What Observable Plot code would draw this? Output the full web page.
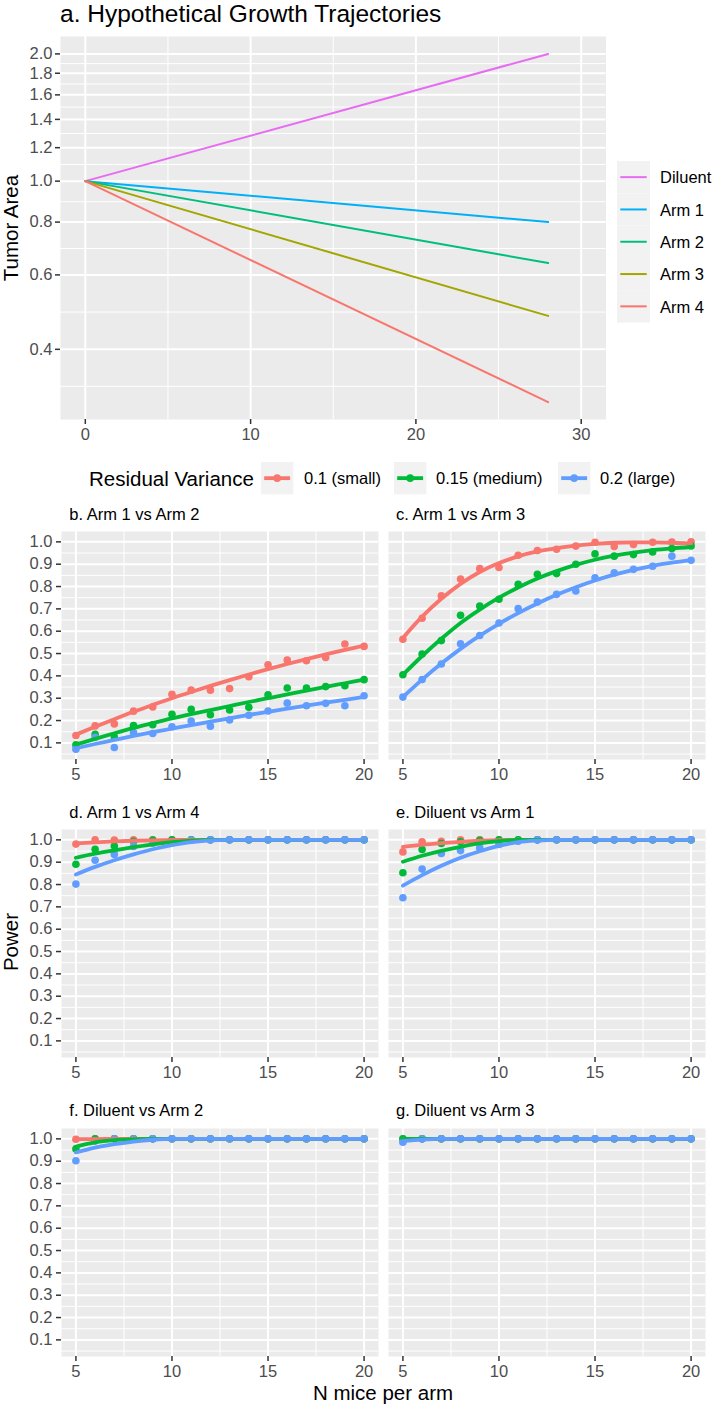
<!DOCTYPE html>
<html><head><meta charset="utf-8">
<script src="https://cdn.jsdelivr.net/npm/d3@7"></script>
<script src="https://cdn.jsdelivr.net/npm/@observablehq/plot@0.6"></script>
<style>
html,body{margin:0;padding:0;background:#fff;}
#root{position:relative;width:712px;height:1408px;overflow:hidden;font-family:"Liberation Sans",Arial,Helvetica,sans-serif;color:#000;}
.t{position:absolute;white-space:nowrap;line-height:0;}
.rot{position:absolute;white-space:nowrap;line-height:1;transform:translate(-50%,-50%) rotate(-90deg);}
#root > svg{position:absolute;}
</style></head><body><div id="root"></div>
<script>
// ---------- Panel a data ----------
const arms = ["Diluent", "Arm 1", "Arm 2", "Arm 3", "Arm 4"];
const armColors = ["#E76BF3", "#00B0F6", "#00BF7D", "#A3A500", "#F8766D"];
const trajDays = [0, 28];
const areaDay0 = [1.0, 1.0, 1.0, 1.0, 1.0];
const areaDay28 = [2.0, 0.80, 0.64, 0.48, 0.30];
const areaTicks = [0.4, 0.6, 0.8, 1.0, 1.2, 1.4, 1.6, 1.8, 2.0];
const areaMinor = [0.327, 0.490, 0.693, 0.894, 1.095, 1.296, 1.497, 1.697, 1.897];
const dayTicks = [0, 10, 20, 30];
const dayMinor = [5, 15, 25];

// ---------- Power panels data ----------
const nMice = [5, 6, 7, 8, 9, 10, 11, 12, 13, 14, 15, 16, 17, 18, 19, 20];
const variances = ["0.1 (small)", "0.15 (medium)", "0.2 (large)"];
const varColors = ["#F8766D", "#00BA38", "#619CFF"];
const powerTicks = [0.1, 0.2, 0.3, 0.4, 0.5, 0.6, 0.7, 0.8, 0.9, 1.0];
const powerMinor = [0.05, 0.15, 0.25, 0.35, 0.45, 0.55, 0.65, 0.75, 0.85, 0.95];
const nTicks = [5, 10, 15, 20];
const nMinor = [7.5, 12.5, 17.5];
const panelTitles = ["b. Arm 1 vs Arm 2", "c. Arm 1 vs Arm 3", "d. Arm 1 vs Arm 4",
                     "e. Diluent vs Arm 1", "f. Diluent vs Arm 2", "g. Diluent vs Arm 3"];

const bSmallPts = [0.133, 0.176, 0.185, 0.242, 0.261, 0.318, 0.336, 0.336, 0.343, 0.396, 0.450, 0.471, 0.468, 0.482, 0.543, 0.532];
const bSmallFit = [0.137, 0.172, 0.206, 0.239, 0.270, 0.300, 0.328, 0.355, 0.381, 0.406, 0.430, 0.453, 0.475, 0.496, 0.516, 0.536];
const bMedPts   = [0.091, 0.138, 0.126, 0.178, 0.181, 0.228, 0.250, 0.226, 0.247, 0.259, 0.315, 0.346, 0.346, 0.352, 0.356, 0.383];
const bMedFit   = [0.092, 0.118, 0.143, 0.167, 0.189, 0.210, 0.229, 0.247, 0.265, 0.283, 0.300, 0.317, 0.334, 0.351, 0.367, 0.383];
const bLargePts = [0.072, 0.125, 0.079, 0.146, 0.142, 0.172, 0.198, 0.175, 0.203, 0.224, 0.243, 0.278, 0.266, 0.277, 0.266, 0.311];
const bLargeFit = [0.076, 0.095, 0.113, 0.131, 0.148, 0.164, 0.180, 0.195, 0.210, 0.225, 0.239, 0.253, 0.267, 0.280, 0.293, 0.306];

const cSmallPts = [0.564, 0.658, 0.758, 0.834, 0.880, 0.885, 0.940, 0.961, 0.967, 0.981, 0.998, 0.979, 0.988, 0.998, 0.999, 1.000];
const cSmallFit = [0.570, 0.665, 0.745, 0.812, 0.865, 0.905, 0.935, 0.957, 0.972, 0.983, 0.991, 0.996, 0.998, 0.998, 0.996, 0.992];
const cMedPts   = [0.405, 0.498, 0.558, 0.671, 0.713, 0.743, 0.810, 0.855, 0.858, 0.900, 0.946, 0.936, 0.943, 0.955, 0.970, 0.982];
const cMedFit   = [0.405, 0.489, 0.566, 0.637, 0.697, 0.750, 0.796, 0.836, 0.869, 0.897, 0.920, 0.938, 0.952, 0.963, 0.971, 0.977];
const cLargePts = [0.305, 0.384, 0.453, 0.544, 0.581, 0.637, 0.701, 0.731, 0.765, 0.780, 0.839, 0.861, 0.877, 0.891, 0.936, 0.918];
const cLargeFit = [0.305, 0.383, 0.455, 0.521, 0.580, 0.633, 0.681, 0.724, 0.763, 0.797, 0.827, 0.853, 0.875, 0.893, 0.907, 0.918];

const dSmallPts = [0.981, 1.000, 0.999, 1.000, 1.000, 1.000, 1.000, 1.000, 1.000, 1.000, 1.000, 1.000, 1.000, 1.000, 1.000, 1.000];
const dSmallFit = [0.984, 0.989, 0.993, 0.996, 0.998, 0.999, 1.000, 1.000, 1.000, 1.000, 1.000, 1.000, 1.000, 1.000, 1.000, 1.000];
const dMedPts   = [0.891, 0.958, 0.972, 0.994, 0.999, 1.000, 1.000, 1.000, 1.000, 1.000, 1.000, 1.000, 1.000, 1.000, 1.000, 1.000];
const dMedFit   = [0.920, 0.938, 0.953, 0.967, 0.980, 0.990, 0.997, 1.000, 1.000, 1.000, 1.000, 1.000, 1.000, 1.000, 1.000, 1.000];
const dLargePts = [0.802, 0.909, 0.935, 0.970, 0.985, 0.991, 0.999, 1.000, 1.000, 1.000, 1.000, 1.000, 1.000, 1.000, 1.000, 1.000];
const dLargeFit = [0.845, 0.879, 0.909, 0.935, 0.958, 0.976, 0.990, 0.998, 1.000, 1.000, 1.000, 1.000, 1.000, 1.000, 1.000, 1.000];

const eSmallPts = [0.946, 0.991, 0.994, 1.000, 1.000, 1.000, 1.000, 1.000, 1.000, 1.000, 1.000, 1.000, 1.000, 1.000, 1.000, 1.000];
const eSmallFit = [0.969, 0.978, 0.985, 0.991, 0.996, 0.999, 1.000, 1.000, 1.000, 1.000, 1.000, 1.000, 1.000, 1.000, 1.000, 1.000];
const eMedPts   = [0.853, 0.957, 0.984, 0.991, 0.998, 1.000, 1.000, 1.000, 1.000, 1.000, 1.000, 1.000, 1.000, 1.000, 1.000, 1.000];
const eMedFit   = [0.902, 0.929, 0.951, 0.969, 0.984, 0.994, 1.000, 1.000, 1.000, 1.000, 1.000, 1.000, 1.000, 1.000, 1.000, 1.000];
const eLargePts = [0.741, 0.869, 0.939, 0.952, 0.964, 0.979, 0.994, 1.000, 1.000, 1.000, 1.000, 1.000, 1.000, 1.000, 1.000, 1.000];
const eLargeFit = [0.795, 0.842, 0.884, 0.920, 0.949, 0.973, 0.990, 0.997, 1.000, 1.000, 1.000, 1.000, 1.000, 1.000, 1.000, 1.000];

const fSmallPts = [0.998, 1.000, 1.000, 1.000, 1.000, 1.000, 1.000, 1.000, 1.000, 1.000, 1.000, 1.000, 1.000, 1.000, 1.000, 1.000];
const fSmallFit = [0.999, 0.999, 1.000, 1.000, 1.000, 1.000, 1.000, 1.000, 1.000, 1.000, 1.000, 1.000, 1.000, 1.000, 1.000, 1.000];
const fMedPts   = [0.955, 1.000, 1.000, 1.000, 1.000, 1.000, 1.000, 1.000, 1.000, 1.000, 1.000, 1.000, 1.000, 1.000, 1.000, 1.000];
const fMedFit   = [0.965, 0.984, 0.994, 0.998, 1.000, 1.000, 1.000, 1.000, 1.000, 1.000, 1.000, 1.000, 1.000, 1.000, 1.000, 1.000];
const fLargePts = [0.902, 0.990, 1.000, 1.000, 1.000, 1.000, 1.000, 1.000, 1.000, 1.000, 1.000, 1.000, 1.000, 1.000, 1.000, 1.000];
const fLargeFit = [0.939, 0.961, 0.976, 0.988, 0.996, 1.000, 1.000, 1.000, 1.000, 1.000, 1.000, 1.000, 1.000, 1.000, 1.000, 1.000];

const gSmallPts = [1.000, 1.000, 1.000, 1.000, 1.000, 1.000, 1.000, 1.000, 1.000, 1.000, 1.000, 1.000, 1.000, 1.000, 1.000, 1.000];
const gSmallFit = [1.000, 1.000, 1.000, 1.000, 1.000, 1.000, 1.000, 1.000, 1.000, 1.000, 1.000, 1.000, 1.000, 1.000, 1.000, 1.000];
const gMedPts   = [1.000, 1.000, 1.000, 1.000, 1.000, 1.000, 1.000, 1.000, 1.000, 1.000, 1.000, 1.000, 1.000, 1.000, 1.000, 1.000];
const gMedFit   = [1.000, 1.000, 1.000, 1.000, 1.000, 1.000, 1.000, 1.000, 1.000, 1.000, 1.000, 1.000, 1.000, 1.000, 1.000, 1.000];
const gLargePts = [0.985, 1.000, 1.000, 1.000, 1.000, 1.000, 1.000, 1.000, 1.000, 1.000, 1.000, 1.000, 1.000, 1.000, 1.000, 1.000];
const gLargeFit = [0.991, 0.997, 1.000, 1.000, 1.000, 1.000, 1.000, 1.000, 1.000, 1.000, 1.000, 1.000, 1.000, 1.000, 1.000, 1.000];

// ---------- Layout / style ----------
const FONT = '"Liberation Sans", Arial, Helvetica, sans-serif';
const TICK_FS = 16.5, TITLE_FS = 20.5;
const root = document.getElementById("root");

function addText(str, x, baseline, size, anchor = "start", color = "#000") {
  const d = document.createElement("div");
  d.className = "t";
  d.textContent = str;
  d.style.fontSize = size + "px";
  d.style.color = color;
  d.style.top = (baseline - 0.3465 * size) + "px";
  d.style.left = x + "px";
  if (anchor === "middle") d.style.transform = "translateX(-50%)";
  root.appendChild(d);
}
function addRotText(str, cx, cy, size) {
  const d = document.createElement("div");
  d.className = "rot";
  d.textContent = str;
  d.style.fontSize = size + "px";
  d.style.left = cx + "px";
  d.style.top = cy + "px";
  root.appendChild(d);
}
function place(svg, left, top) {
  svg.style.position = "absolute";
  svg.style.left = left + "px";
  svg.style.top = top + "px";
  root.appendChild(svg);
}

// ---------- Panel a ----------
const traj = [];
arms.forEach((a, i) => {
  traj.push({day: trajDays[0], area: areaDay0[i], arm: a});
  traj.push({day: trajDays[1], area: areaDay28[i], arm: a});
});

const plotA = Plot.plot({
  width: 712, height: 450,
  marginLeft: 60, marginRight: 106.5, marginTop: 36, marginBottom: 31,
  style: {fontFamily: FONT, fontSize: TICK_FS + "px", background: "transparent", overflow: "visible"},
  x: {domain: [-1.5, 31.5]},
  y: {type: "log", domain: [0.2729, 2.199]},
  color: {domain: arms, range: armColors},
  marks: [
    Plot.frame({fill: "#EBEBEB", stroke: "none"}),
    Plot.ruleY(areaMinor, {stroke: "#fff", strokeWidth: 1}),
    Plot.ruleX(dayMinor, {stroke: "#fff", strokeWidth: 1}),
    Plot.ruleY(areaTicks, {stroke: "#fff", strokeWidth: 2}),
    Plot.ruleX(dayTicks, {stroke: "#fff", strokeWidth: 2}),
    Plot.line(traj, {x: "day", y: "area", z: "arm", stroke: "arm", strokeWidth: 2}),
    Plot.axisX(dayTicks, {tickSize: 5, tickPadding: 4, stroke: "#333333", strokeWidth: 1.5, fill: "#4D4D4D", fontSize: TICK_FS, label: null, tickFormat: d3.format("d")}),
    Plot.axisY(areaTicks, {tickSize: 5, tickPadding: 3, stroke: "#333333", strokeWidth: 1.5, fill: "#4D4D4D", fontSize: TICK_FS, label: null, tickFormat: d3.format(".1f")})
  ]
});
place(plotA, 0, 0);

addText("a. Hypothetical Growth Trajectories", 60, 22.5, 24.5);
addRotText("Tumor Area", 11, 227.5, TITLE_FS);

// Legend for panel a
const legA = d3.create("svg").attr("width", 34).attr("height", 162);
arms.forEach((a, i) => {
  const g = legA.append("g").attr("transform", `translate(0,${i * 32.3})`);
  g.append("rect").attr("width", 33).attr("height", 32.3).attr("fill", "#F2F2F2");
  g.append("line").attr("x1", 3.3).attr("x2", 29.7).attr("y1", 16.15).attr("y2", 16.15)
    .attr("stroke", armColors[i]).attr("stroke-width", 2);
  addText(a, 660, 161 + i * 32.3 + 16.15 + 5.9, TICK_FS);
});
place(legA.node(), 617, 161);

// ---------- Residual variance legend ----------
addText("Residual Variance", 89, 486, TITLE_FS);
const keyX = [261.4, 394.1, 558.2];
const labX = [304, 436, 600];
variances.forEach((v, i) => {
  const k = d3.create("svg").attr("width", 33).attr("height", 33);
  k.append("rect").attr("width", 32.3).attr("height", 32.3).attr("fill", "#F2F2F2");
  k.append("line").attr("x1", 3.2).attr("x2", 29.1).attr("y1", 16.15).attr("y2", 16.15)
    .attr("stroke", varColors[i]).attr("stroke-width", 3.8);
  k.append("circle").attr("cx", 16.15).attr("cy", 16.15).attr("r", 3.8).attr("fill", varColors[i]);
  place(k.node(), keyX[i], 461.7);
  addText(v, labX[i], 483.4, TICK_FS);
});

// ---------- Power panels ----------
const PANEL_H = 228;
const rowTops = [531, 829.3, 1127.6];
const panelPts = [
  [bSmallPts, bMedPts, bLargePts], [cSmallPts, cMedPts, cLargePts],
  [dSmallPts, dMedPts, dLargePts], [eSmallPts, eMedPts, eLargePts],
  [fSmallPts, fMedPts, fLargePts], [gSmallPts, gMedPts, gLargePts]
];
const panelFits = [
  [bSmallFit, bMedFit, bLargeFit], [cSmallFit, cMedFit, cLargeFit],
  [dSmallFit, dMedFit, dLargeFit], [eSmallFit, eMedFit, eLargeFit],
  [fSmallFit, fMedFit, fLargeFit], [gSmallFit, gMedFit, gLargeFit]
];

function powerPlot(pts, fits, left) {
  const points = [], curves = [];
  variances.forEach((v, i) => nMice.forEach((n, j) => {
    points.push({n, power: pts[i][j], variance: v});
    curves.push({n, power: fits[i][j], variance: v});
  }));
  const marks = [
    Plot.frame({fill: "#EBEBEB", stroke: "none"}),
    Plot.ruleY(powerMinor, {stroke: "#fff", strokeWidth: 1}),
    Plot.ruleX(nMinor, {stroke: "#fff", strokeWidth: 1}),
    Plot.ruleY(powerTicks, {stroke: "#fff", strokeWidth: 2}),
    Plot.ruleX(nTicks, {stroke: "#fff", strokeWidth: 2}),
    Plot.dot(points, {x: "n", y: "power", fill: "variance", r: 3.8}),
    Plot.line(curves, {x: "n", y: "power", z: "variance", stroke: "variance", strokeWidth: 3.8, curve: "monotone-x"}),
    Plot.axisX(nTicks, {tickSize: 5, tickPadding: 4, stroke: "#333333", strokeWidth: 1.5, fill: "#4D4D4D", fontSize: TICK_FS, label: null, tickFormat: d3.format("d")})
  ];
  if (left) marks.push(Plot.axisY(powerTicks, {tickSize: 5, tickPadding: 4, stroke: "#333333", strokeWidth: 1.5, fill: "#4D4D4D", fontSize: TICK_FS, label: null, tickFormat: d3.format(".1f")}));
  return Plot.plot({
    width: left ? 383 : 329,
    height: PANEL_H + 30,
    marginTop: 0, marginBottom: 30,
    marginLeft: left ? 61 : 5, marginRight: left ? 5 : 7,
    style: {fontFamily: FONT, fontSize: TICK_FS + "px", background: "transparent", overflow: "visible"},
    x: {domain: [4.25, 20.75]},
    y: left ? {domain: [0.0256, 1.0464]} : {domain: [0.0256, 1.0464], axis: null},
    color: {domain: variances, range: varColors},
    marks
  });
}

panelTitles.forEach((title, k) => {
  const row = Math.floor(k / 2), left = k % 2 === 0;
  const svg = powerPlot(panelPts[k], panelFits[k], left);
  place(svg, left ? 0 : 383, rowTops[row]);
  addText(title, left ? 69.3 : 396, rowTops[row] - 11.5, TICK_FS);
});

addRotText("Power", 11, 942, TITLE_FS);
addText("N mice per arm", 383, 1400.5, TITLE_FS, "middle");
</script></body></html>
